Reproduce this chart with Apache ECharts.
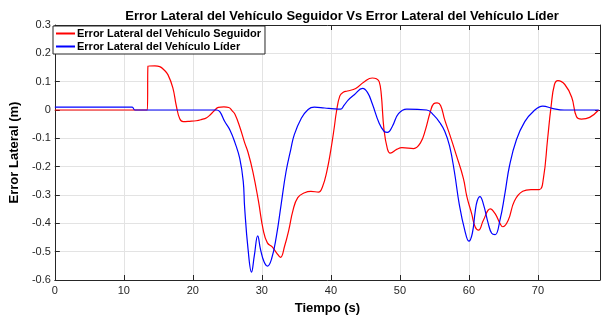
<!doctype html>
<html>
<head>
<meta charset="utf-8">
<script src="https://cdn.jsdelivr.net/npm/echarts@6/dist/echarts.min.js"></script>
<style>
  html, body { margin: 0; padding: 0; background: #fff; }
  #chart { width: 605px; height: 320px; }
</style>
</head>
<body>
<div id="chart"></div>
<script>
// Error lateral (m) vs tiempo (s)
const seguidorT = [0, 13.4, 13.5, 14.5, 15.2, 15.8, 16.4, 17.1, 17.6, 18.1, 18.6, 19.5, 20.5, 21.2, 22.0, 22.6, 23.2, 23.7, 24.5, 25.2, 25.7, 26.1, 26.8, 27.5, 28.0, 28.7, 29.5, 30.2, 30.8, 31.5, 32.1, 32.7, 33.3, 33.9, 34.5, 35.2, 36.2, 37.1, 38.2, 38.8, 39.4, 40.0, 40.5, 40.8, 41.3, 41.8, 42.4, 43.6, 44.8, 46.0, 46.6, 47.0, 47.3, 47.7, 48.2, 48.6, 49.6, 50.3, 52.0, 53.0, 53.7, 54.4, 54.9, 55.4, 55.9, 56.5, 57.3, 58.2, 59.2, 59.7, 60.4, 60.9, 61.4, 62.1, 63.1, 63.8, 64.5, 64.9, 65.7, 66.6, 67.8, 69.0, 70.2, 70.8, 71.4, 71.9, 72.4, 72.9, 73.9, 74.9, 75.6, 76.3, 77.5, 78.8];
const seguidorV = [0, 0, 0.155, 0.156, 0.153, 0.142, 0.124, 0.078, 0.015, -0.031, -0.041, -0.04, -0.038, -0.034, -0.027, -0.015, 0.0, 0.009, 0.011, 0.009, -0.003, -0.015, -0.06, -0.115, -0.15, -0.218, -0.321, -0.424, -0.469, -0.483, -0.503, -0.52, -0.48, -0.424, -0.355, -0.309, -0.292, -0.287, -0.29, -0.27, -0.218, -0.14, -0.06, -0.007, 0.05, 0.063, 0.067, 0.076, 0.099, 0.113, 0.11, 0.1, 0.056, -0.07, -0.138, -0.152, -0.138, -0.133, -0.136, -0.115, -0.07, -0.007, 0.022, 0.025, 0.016, -0.035, -0.092, -0.161, -0.241, -0.305, -0.366, -0.412, -0.424, -0.389, -0.349, -0.366, -0.4, -0.412, -0.389, -0.321, -0.287, -0.281, -0.281, -0.241, -0.104, 0.01, 0.09, 0.104, 0.09, 0.045, -0.024, -0.032, -0.026, 0.0];

const liderT = [0, 11.2, 11.6, 23.4, 23.9, 24.6, 25.4, 26.1, 26.8, 27.3, 27.5, 28.0, 28.5, 28.9, 29.4, 29.8, 30.3, 30.8, 31.4, 32.1, 32.8, 33.5, 34.2, 34.7, 35.7, 36.7, 37.6, 39.1, 40.5, 41.4, 41.9, 42.5, 43.4, 44.6, 45.3, 46.0, 47.0, 47.7, 48.2, 48.9, 49.8, 51.0, 53.9, 54.9, 55.8, 56.5, 57.2, 57.9, 58.6, 59.4, 60.0, 60.5, 60.9, 61.2, 61.6, 62.1, 62.8, 63.3, 63.8, 64.5, 65.2, 65.9, 66.9, 68.1, 69.3, 70.7, 72.2, 73.8, 78.8];
const liderV = [0.01, 0.01, 0.0, 0.0, -0.006, -0.04, -0.072, -0.115, -0.172, -0.252, -0.343, -0.492, -0.572, -0.515, -0.444, -0.492, -0.535, -0.551, -0.526, -0.446, -0.332, -0.218, -0.138, -0.087, -0.03, 0.002, 0.01, 0.007, 0.004, 0.003, 0.016, 0.035, 0.054, 0.076, 0.062, 0.022, -0.047, -0.075, -0.079, -0.058, -0.013, 0.003, 0.0, -0.018, -0.045, -0.075, -0.127, -0.218, -0.332, -0.424, -0.463, -0.435, -0.361, -0.321, -0.306, -0.332, -0.4, -0.435, -0.44, -0.389, -0.298, -0.195, -0.104, -0.041, -0.006, 0.014, 0.005, 0.0, 0.0];

const xTicks = [0, 10, 20, 30, 40, 50, 60, 70];
const yTicks = [0.3, 0.2, 0.1, 0, -0.1, -0.2, -0.3, -0.4, -0.5, -0.6];

const seriesNames = ["Error Lateral del Vehículo Seguidor", "Error Lateral del Vehículo Líder"];
const FONT = "Liberation Sans, Arial, sans-serif";
const AXIS_COLOR = "#262626";

function pairs(ts, vs) {
  return ts.map((t, i) => [t, vs[i]]);
}

function xLabel(value) {
  return xTicks.includes(value) ? String(value) : "";
}

function yLabel(value) {
  const hit = yTicks.find((v) => Math.abs(v - value) < 1e-9);
  if (hit === undefined) return "";
  return hit === 0 ? "0" : String(hit);
}

const chart = echarts.init(document.getElementById("chart"), null, { renderer: "canvas" });

const tickStyle = { inside: true, length: 5, lineStyle: { color: AXIS_COLOR } };
const lineStyleAxis = { show: true, onZero: false, lineStyle: { color: AXIS_COLOR, width: 1 } };

chart.setOption({
  animation: false,
  backgroundColor: "#ffffff",
  title: {
    text: "Error Lateral del Vehículo Seguidor Vs Error Lateral del Vehículo Líder",
    left: 337,
    textAlign: "center",
    top: 5,
    textStyle: { fontFamily: FONT, fontSize: 13, fontWeight: "bold", color: "#000" },
  },
  legend: {
    orient: "vertical",
    left: 53,
    top: 26,
    padding: [2, 4, 2, 3],
    itemGap: 2,
    itemWidth: 19,
    itemHeight: 2,
    icon: "rect",
    backgroundColor: "#fff",
    borderColor: AXIS_COLOR,
    borderWidth: 1,
    borderRadius: 0,
    textStyle: { fontFamily: FONT, fontSize: 11, fontWeight: "bold", color: "#000", padding: [0, 0, 0, -3] },
    data: seriesNames,
  },
  grid: { left: 52, right: 5, top: 25, bottom: 31, containLabel: false },
  xAxis: [
    {
      type: "value",
      min: 0,
      max: 79,
      interval: 10,
      name: "Tiempo (s)",
      nameLocation: "middle",
      nameGap: 22,
      nameTextStyle: { fontFamily: FONT, fontSize: 13, fontWeight: "bold", color: "#000" },
      axisLine: lineStyleAxis,
      axisTick: tickStyle,
      axisLabel: { fontFamily: FONT, fontSize: 11, color: AXIS_COLOR, margin: 5, formatter: xLabel },
      splitLine: { show: true, lineStyle: { color: "#e3e3e3", width: 1 } },
    },
    {
      type: "value",
      position: "top",
      min: 0,
      max: 79,
      interval: 10,
      axisLine: lineStyleAxis,
      axisTick: tickStyle,
      axisLabel: { show: false },
      splitLine: { show: false },
    },
  ],
  yAxis: [
    {
      type: "value",
      min: -0.6,
      max: 0.3,
      interval: 0.1,
      name: "Error Lateral (m)",
      nameLocation: "middle",
      nameGap: 20,
      nameTextStyle: { fontFamily: FONT, fontSize: 13, fontWeight: "bold", color: "#000" },
      axisLine: lineStyleAxis,
      axisTick: tickStyle,
      axisLabel: { fontFamily: FONT, fontSize: 11, color: AXIS_COLOR, margin: 4, formatter: yLabel },
      splitLine: { show: true, lineStyle: { color: "#e3e3e3", width: 1 } },
    },
    {
      type: "value",
      position: "right",
      min: -0.6,
      max: 0.3,
      interval: 0.1,
      axisLine: lineStyleAxis,
      axisTick: tickStyle,
      axisLabel: { show: false },
      splitLine: { show: false },
    },
  ],
  series: [
    {
      name: seriesNames[0],
      type: "line",
      data: pairs(seguidorT, seguidorV),
      showSymbol: false,
      smooth: 0.45,
      color: "#ff0000",
      lineStyle: { color: "#ff0000", width: 1.2 },
      z: 3,
    },
    {
      name: seriesNames[1],
      type: "line",
      data: pairs(liderT, liderV),
      showSymbol: false,
      smooth: 0.45,
      color: "#0000ff",
      lineStyle: { color: "#0000ff", width: 1.2 },
      z: 4,
    },
  ],
});
</script>
</body>
</html>
